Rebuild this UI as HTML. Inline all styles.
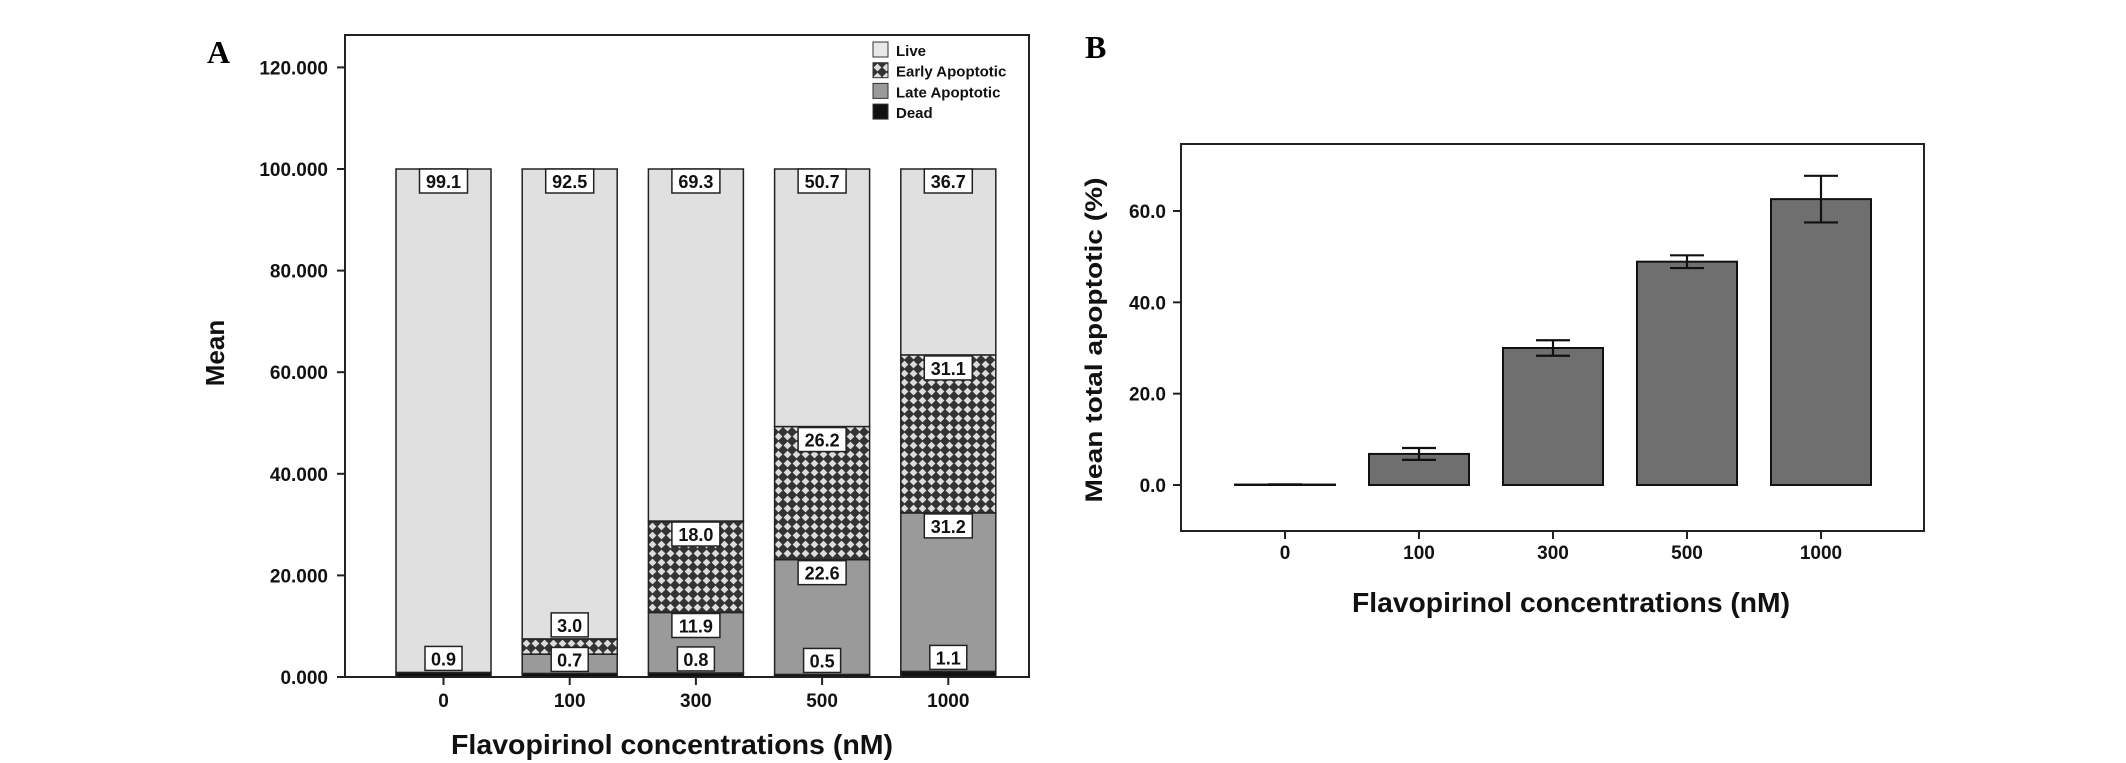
<!DOCTYPE html>
<html><head><meta charset="utf-8"><style>
html,body{margin:0;padding:0;background:#fff;}
svg{display:block;font-family:"Liberation Sans",sans-serif;}
</style></head><body>
<svg id="chart" width="2126" height="763" viewBox="0 0 2126 763" xmlns="http://www.w3.org/2000/svg">
<defs>
<pattern id="hatch" width="9" height="9" patternUnits="userSpaceOnUse">
<rect width="9" height="9" fill="#333"/>
<polygon points="4.5,0.6 8.4,4.5 4.5,8.4 0.6,4.5" fill="#dcdcdc"/>
</pattern>
</defs>
<g id="panelA"></g>
<g id="panelB"></g>
</svg>
<script>
const categories = ["0","100","300","500","1000"];
const deadVals = [0.9,0.7,0.8,0.5,1.1];
const lateVals = [0,3.8,11.9,22.6,31.2];
const earlyVals = [0,3.0,18.0,26.2,31.1];
const liveVals = [99.1,92.5,69.3,50.7,36.7];
const yTicksA = [0,20,40,60,80,100,120];
const yTickLabelsA = ["0.000","20.000","40.000","60.000","80.000","100.000","120.000"];
const totalApoptotic = [0.1,6.8,30.0,48.9,62.6];
const totalErr = [0.05,1.3,1.7,1.4,5.1];
const yTicksB = [0,20,40,60];
const yTickLabelsB = ["0.0","20.0","40.0","60.0"];

const NS="http://www.w3.org/2000/svg";
function el(parent,tag,attrs,text){const e=document.createElementNS(NS,tag);for(const k in attrs)e.setAttribute(k,attrs[k]);if(text!==undefined)e.textContent=text;parent.appendChild(e);return e;}

// ---------- Panel A ----------
const A=document.getElementById('panelA');
const yA=v=>677-v*(677-169)/100;
const xA=i=>443.5+i*126.2;
const bwA=95;
let t;
t=el(A,'text',{x:207,y:63,'font-family':'Liberation Serif,serif','font-weight':'bold','font-size':32});t.textContent='A';

let fr=el(A,'rect',{x:345,y:35,width:684,height:642,fill:'none',stroke:'#222','stroke-width':2});

yTicksA.forEach((v,i)=>{
  let tk=el(A,'line',{x1:337,x2:345,y1:yA(v),y2:yA(v),stroke:'#222','stroke-width':2});
  
  let lb=el(A,'text',{x:328,y:yA(v)+7,'text-anchor':'end','font-weight':'bold','font-size':19,fill:'#111'},yTickLabelsA[i]);
  
});
t=el(A,'text',{x:0,y:0,transform:'translate(224,353) rotate(-90)','text-anchor':'middle','font-weight':'bold','font-size':26,fill:'#111'},'Mean');

t=el(A,'text',{x:451,y:754,textLength:442,lengthAdjust:'spacingAndGlyphs','font-weight':'bold','font-size':28,fill:'#111'},'Flavopirinol concentrations (nM)');


function labelBox(g,cx,top,txt){
  const w=txt.length>3?48:37;
  let r=el(g,'rect',{x:cx-w/2,y:top,width:w,height:24,fill:'#fff',stroke:'#222','stroke-width':1.5});
  
  let tx=el(g,'text',{x:cx,y:top+19,'text-anchor':'middle','font-weight':'bold','font-size':18,fill:'#111'},txt);
  
}
categories.forEach((c,i)=>{
  const g=el(A,'g',{});
  
  const segs=[[deadVals[i],'#111','dead'],[lateVals[i],'#9a9a9a','late-apoptotic'],[earlyVals[i],'url(#hatch)','early-apoptotic']];
  let base=0;const cx=xA(i);const tops=[];
  segs.forEach(s=>{
    const y1=yA(base),y2=yA(base+s[0]);
    let r=el(g,'rect',{x:cx-bwA/2,y:y2,width:bwA,height:Math.max(0,y1-y2),fill:s[1],stroke:'#222','stroke-width':1.5});
    
    tops.push([y2,y1-y2,s[0]]);base+=s[0];
  });
  const yl=yA(base),y100=yA(100);
  let r=el(g,'rect',{x:cx-bwA/2,y:y100,width:bwA,height:yl-y100,fill:'#e0e0e0',stroke:'#222','stroke-width':1.5});
  
  labelBox(g,cx,y100,liveVals[i].toFixed(1));
  labelBox(g,cx,tops[0][0]-26,deadVals[i].toFixed(1));
  if(earlyVals[i]>0){ if(tops[2][1]>=30) labelBox(g,cx,tops[2][0]+1,earlyVals[i].toFixed(1)); else labelBox(g,cx,tops[2][0]-26,earlyVals[i].toFixed(1)); }
  if(lateVals[i]>0 && tops[1][1]>=30) labelBox(g,cx,tops[1][0]+1,lateVals[i].toFixed(1));
  let tk=el(A,'line',{x1:cx,x2:cx,y1:677,y2:685,stroke:'#222','stroke-width':2});
  
  let lb=el(A,'text',{x:cx,y:707,'text-anchor':'middle','font-weight':'bold','font-size':19,fill:'#111'},c);
  
});
const legendItems=[['Live','#e8e8e8'],['Early Apoptotic','url(#hatch)'],['Late Apoptotic','#9a9a9a'],['Dead','#111']];
legendItems.forEach((it,i)=>{
  const y=50+i*20.7;
  let s=el(A,'rect',{x:873,y:y-8,width:15,height:15,fill:it[1],stroke:'#333','stroke-width':1});
  
  let lt=el(A,'text',{x:896,y:y+6,'font-weight':'bold','font-size':15,fill:'#111'},it[0]);
  
});

// ---------- Panel B ----------
const B=document.getElementById('panelB');
const yB=v=>485-v*(485-211)/60;
const xB=i=>1285+i*134;
const bwB=100;
t=el(B,'text',{x:1085,y:58,'font-family':'Liberation Serif,serif','font-weight':'bold','font-size':32});t.textContent='B';

fr=el(B,'rect',{x:1181,y:144,width:743,height:387,fill:'none',stroke:'#222','stroke-width':2});

yTicksB.forEach((v,i)=>{
  let tk=el(B,'line',{x1:1173,x2:1181,y1:yB(v),y2:yB(v),stroke:'#222','stroke-width':2});
  
  let lb=el(B,'text',{x:1166,y:yB(v)+7,'text-anchor':'end','font-weight':'bold','font-size':19,fill:'#111'},yTickLabelsB[i]);
  
});
t=el(B,'text',{x:0,y:0,transform:'translate(1102,340) rotate(-90)','text-anchor':'middle',textLength:325,lengthAdjust:'spacingAndGlyphs','font-weight':'bold','font-size':24,fill:'#111'},'Mean total apoptotic (%)');

t=el(B,'text',{x:1352,y:612,textLength:438,lengthAdjust:'spacingAndGlyphs','font-weight':'bold','font-size':28,fill:'#111'},'Flavopirinol concentrations (nM)');

categories.forEach((c,i)=>{
  const cx=xB(i),v=totalApoptotic[i],e=totalErr[i];
  let r=el(B,'rect',{x:cx-bwB/2,y:yB(v),width:bwB,height:yB(0)-yB(v),fill:'#6f6f6f',stroke:'#111','stroke-width':2});
  
  const eg=el(B,'g',{stroke:'#111','stroke-width':2.2});
  
  el(eg,'line',{x1:cx,x2:cx,y1:yB(v-e),y2:yB(v+e)});
  el(eg,'line',{x1:cx-17,x2:cx+17,y1:yB(v+e),y2:yB(v+e)});
  el(eg,'line',{x1:cx-17,x2:cx+17,y1:yB(v-e),y2:yB(v-e)});
  let tk=el(B,'line',{x1:cx,x2:cx,y1:531,y2:539,stroke:'#222','stroke-width':2});
  
  let lb=el(B,'text',{x:cx,y:559,'text-anchor':'middle','font-weight':'bold','font-size':19,fill:'#111'},c);
  
});
</script>
</body></html>
